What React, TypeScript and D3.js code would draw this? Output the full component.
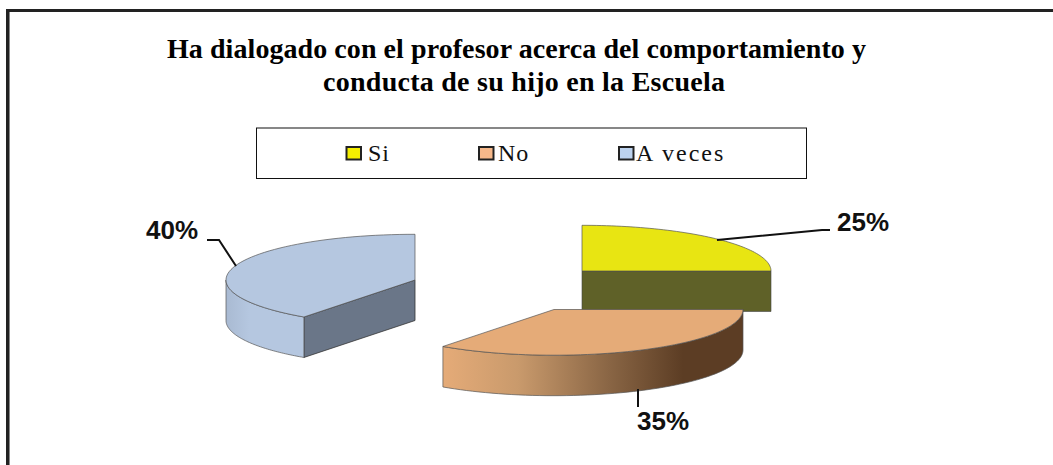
import React from "react";
import * as d3 from "d3";

const titleLines = ["Ha dialogado con el profesor acerca del comportamiento y", "conducta de su hijo en la Escuela"];
const categories = ["Si", "No", "A veces"];
const values = [25, 35, 40];
const labels = ["25%", "35%", "40%"];

const W = 1053, H = 465;
const RX = 189, RY = 45.7, DEPTH = 40.5;
const centers: [number, number][] = [[582, 271], [554, 309.5], [415, 280]];
const topColors = ["#e8e512", "#e5ab78", "#b5c7e0"];
const wallColors = ["#5f6128", "url(#wallNo)", "url(#wallBlue)"];
const cutColors = ["#5f6128", "#5c3d24", "#6a7688"];
const swatchColors = ["#f4ee00", "#f6b88a", "#bcd2ee"];
const swatchX = [346.5, 479, 619];
const legendTextX = [368, 498, 636];
const legendSpacing = [1, 1, 2];
const titleX = [167, 323];
const titleLen = [699, 402];
const labelPos: [number, number][] = [[837, 231], [637, 430], [146, 239]];
const leaders: [number, number][][] = [
  [[717, 240], [822, 230], [830, 230]],
  [[638, 389], [638, 407]],
  [[207, 240], [219, 240], [236, 266]],
];

const arcs = d3.pie<number>().sort(null)(values);
const pt = (c: [number, number], a: number, dy = 0): [number, number] => [
  c[0] + RX * Math.sin(a),
  c[1] - RY * Math.cos(a) + dy,
];
const samples = (a0: number, a1: number) => d3.range(0, 61).map((i) => a0 + ((a1 - a0) * i) / 60);
const line = d3.line();

function topPath(c: [number, number], a0: number, a1: number) {
  return line([c, ...samples(a0, a1).map((a) => pt(c, a))]) + "Z";
}
function wallPath(c: [number, number], a0: number, a1: number) {
  const s0 = Math.max(a0, Math.PI / 2);
  const s1 = Math.min(a1, (3 * Math.PI) / 2);
  const front = samples(s0, s1);
  return line([...front.map((a) => pt(c, a)), ...front.slice().reverse().map((a) => pt(c, a, DEPTH))]) + "Z";
}
function cutPath(c: [number, number], a: number) {
  const p = pt(c, a);
  return line([c, p, [p[0], p[1] + DEPTH], [c[0], c[1] + DEPTH]]) + "Z";
}

export default function App() {
  return (
    <svg width={W} height={H} style={{ position: "fixed", left: 0, top: 0, background: "#fff" }}>
      <defs>
        <linearGradient id="wallNo" gradientUnits="userSpaceOnUse" x1={443} x2={743} y1={0} y2={0}>
          <stop offset="0" stopColor="#e5ab78" />
          <stop offset="0.25" stopColor="#c99a6c" />
          <stop offset="0.55" stopColor="#8a6645" />
          <stop offset="0.8" stopColor="#5c3d24" />
          <stop offset="1" stopColor="#5c3d24" />
        </linearGradient>
        <linearGradient id="wallBlue" gradientUnits="userSpaceOnUse" x1={226} x2={304} y1={0} y2={0}>
          <stop offset="0" stopColor="#a9bad2" />
          <stop offset="0.3" stopColor="#b5c7e0" />
          <stop offset="1" stopColor="#b5c7e0" />
        </linearGradient>
      </defs>

      <path d="M9.5 465V12" fill="none" stroke="#888" strokeWidth={1} />
      <path d="M7.5 465V10.5H1053" fill="none" stroke="#222" strokeWidth={3} />

      {titleLines.map((t, i) => (
        <text key={i} x={titleX[i]} y={58 + i * 33} textLength={titleLen[i]} lengthAdjust="spacing" fontFamily="'Liberation Serif'" fontWeight="bold" fontSize={28} fill="#000">
          {t}
        </text>
      ))}

      <rect x={256.5} y={128} width={550} height={50.5} fill="#fff" stroke="#111" strokeWidth={1} />
      {categories.map((c, i) => (
        <g key={c}>
          <rect x={swatchX[i]} y={147} width={14.5} height={12.5} fill={swatchColors[i]} stroke="#222" strokeWidth={2} />
          <text x={legendTextX[i]} y={160.5} fontFamily="'Liberation Serif'" fontSize={24} letterSpacing={legendSpacing[i]} fill="#111">{c}</text>
        </g>
      ))}

      {arcs.map((d, i) => (
        <g key={i}>
          {i === 0 && <path d={cutPath(centers[i], d.endAngle)} fill={cutColors[i]} stroke="#444" strokeWidth={0.6} />}
          {i === 2 && <path d={cutPath(centers[i], d.startAngle)} fill={cutColors[i]} stroke="#333" strokeWidth={0.8} />}
          {i !== 0 && <path d={wallPath(centers[i], d.startAngle, d.endAngle)} fill={wallColors[i]} stroke="#555" strokeWidth={0.7} />}
          <path d={topPath(centers[i], d.startAngle, d.endAngle)} fill={topColors[i]} stroke="#555" strokeWidth={0.7} />
        </g>
      ))}

      {leaders.map((l, i) => (
        <path key={i} d={line(l) as string} fill="none" stroke="#111" strokeWidth={2} />
      ))}
      {labels.map((t, i) => (
        <text key={t} x={labelPos[i][0]} y={labelPos[i][1]} fontFamily="'Liberation Sans'" fontWeight="bold" fontSize={26} fill="#111">
          {t}
        </text>
      ))}
    </svg>
  );
}
